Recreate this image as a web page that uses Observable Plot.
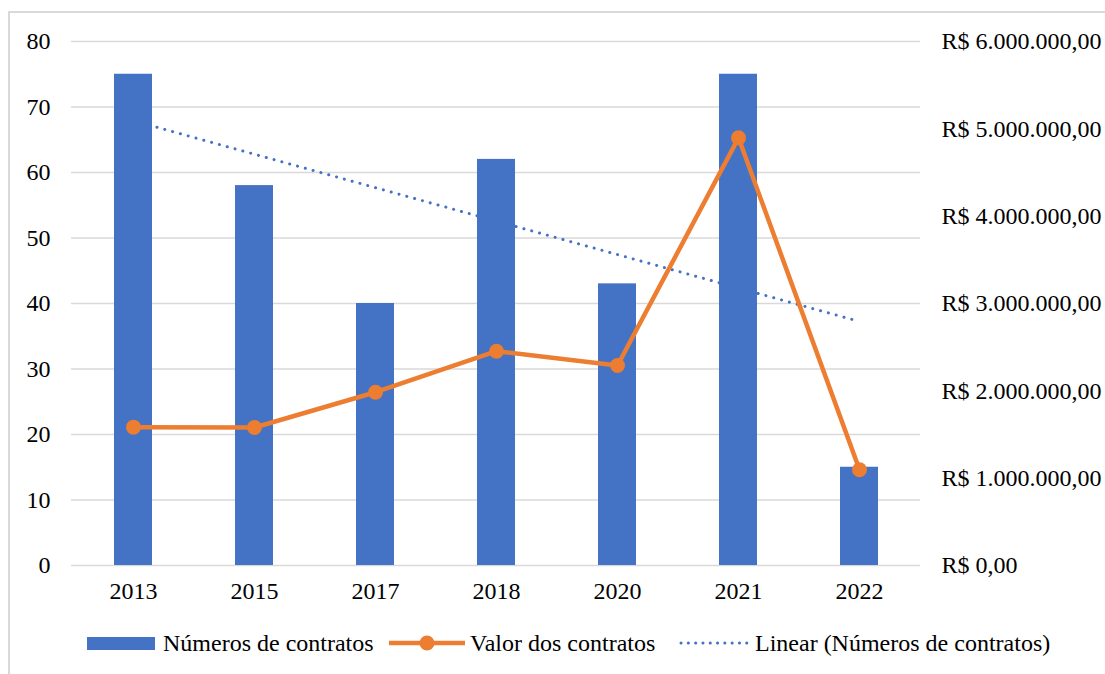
<!DOCTYPE html>
<html>
<head>
<meta charset="utf-8">
<script src="https://cdn.jsdelivr.net/npm/d3@7"></script>
<script src="https://cdn.jsdelivr.net/npm/@observablehq/plot@0.6"></script>
<style>
  html, body { margin: 0; padding: 0; background: #fff; overflow: hidden; width: 1105px; height: 674px; }
  body { position: relative; font-family: "Liberation Serif", "Times New Roman", serif; }
  #frame { position: absolute; left: 8px; top: 11px; width: 1200px; height: 800px; border: 2px solid #d9d9d9; box-sizing: border-box; pointer-events: none; }
  #chart { position: absolute; left: 0; top: 0; }
  .leg { position: absolute; font-size: 24px; color: #000; line-height: 1; white-space: nowrap; }
  .leg svg { display: block; }
</style>
</head>
<body>
<div id="frame"></div>
<div id="chart"></div>
<div id="legend"></div>
<script>
// ---- Data ----
const years = ["2013", "2015", "2017", "2018", "2020", "2021", "2022"];
const numContratos = [75, 58, 40, 62, 43, 75, 15];
const valorContratos = [1584000, 1580000, 1984000, 2454000, 2290000, 4897000, 1096000];
const leftTicks = [0, 10, 20, 30, 40, 50, 60, 70, 80];
const rightTicks = [0, 1000000, 2000000, 3000000, 4000000, 5000000, 6000000];
const legendLabels = ["Números de contratos", "Valor dos contratos", "Linear (Números de contratos)"];

// ---- Colours ----
const blue = "#4472C4";
const orange = "#ED7D31";
const grid = "#d9d9d9";

// scale right axis (0..6M) onto left (0..80)
const leftMax = 80, rightMax = 6000000;
const toLeft = v => v * leftMax / rightMax;

const brl = d3.formatLocale({decimal: ",", thousands: ".", grouping: [3], currency: ["R$ ", ""]}).format("$,.2f");

const bars = years.map((y, i) => ({year: y, n: numContratos[i]}));
const values = years.map((y, i) => ({year: y, v: toLeft(valorContratos[i])}));

// linear trend of bar values (Excel-style, x = 1..n)
const xs = years.map((_, i) => i + 1);
const mx = d3.mean(xs), my = d3.mean(numContratos);
const slope = d3.sum(xs, (x, i) => (x - mx) * (numContratos[i] - my)) / d3.sum(xs, x => (x - mx) ** 2);
const intercept = my - slope * mx;
const trend = [
  {year: years[0], t: intercept + slope * xs[0]},
  {year: years[years.length - 1], t: intercept + slope * xs[xs.length - 1]}
];

const font = "'Liberation Serif', 'Times New Roman', serif";

const chart = Plot.plot({
  width: 1105,
  height: 615,
  marginLeft: 71,
  marginRight: 185,
  marginTop: 41,
  marginBottom: 50,
  style: {fontFamily: font, fontSize: "24px", color: "#000", background: "transparent"},
  x: {domain: years, paddingInner: 0.686, paddingOuter: 0.343, label: null},
  y: {domain: [0, leftMax], label: null},
  marks: [
    Plot.gridY(leftTicks, {stroke: grid, strokeOpacity: 1, strokeWidth: 1.5}),
    Plot.barY(bars, {x: "year", y: "n", fill: blue}),
    Plot.line(trend, {x: "year", y: "t", stroke: blue, strokeWidth: 3, strokeDasharray: "0.1 8", strokeLinecap: "round"}),
    Plot.line(values, {x: "year", y: "v", stroke: orange, strokeWidth: 4.5, strokeLinejoin: "round"}),
    Plot.dot(values, {x: "year", y: "v", r: 7.5, fill: orange}),
    Plot.axisY(leftTicks, {anchor: "left", tickSize: 0, tickPadding: 21, label: null}),
    Plot.axisY(rightTicks.map(toLeft), {anchor: "right", tickSize: 0, tickPadding: 21, label: null,
      tickFormat: d => brl(d * rightMax / leftMax), textAnchor: "start"}),
    Plot.axisX({tickSize: 0, tickPadding: 16, label: null})
  ]
});
document.getElementById("chart").appendChild(chart);

// ---- Legend (HTML below the plot) ----
const leg = document.getElementById("legend");
const cy = 643;
function add(html, left, top) {
  const d = document.createElement("div");
  d.className = "leg";
  d.style.left = left + "px";
  d.style.top = top + "px";
  d.innerHTML = html;
  leg.appendChild(d);
}
// swatches
add(`<svg width="68" height="13"><rect width="68" height="13" fill="${blue}"/></svg>`, 87, cy - 6.5);
add(`<svg width="76" height="18"><line x1="0" y1="9" x2="76" y2="9" stroke="${orange}" stroke-width="4.5"/><circle cx="38" cy="9" r="7.5" fill="${orange}"/></svg>`, 389, cy - 9);
add(`<svg width="70" height="6"><line x1="2" y1="3" x2="68" y2="3" stroke="${blue}" stroke-width="3" stroke-dasharray="0.1 7.2" stroke-linecap="round"/></svg>`, 679, cy - 3);
// labels
add(legendLabels[0], 163, cy - 12);
add(legendLabels[1], 470, cy - 12);
add(legendLabels[2], 755, cy - 12);
</script>
</body>
</html>
